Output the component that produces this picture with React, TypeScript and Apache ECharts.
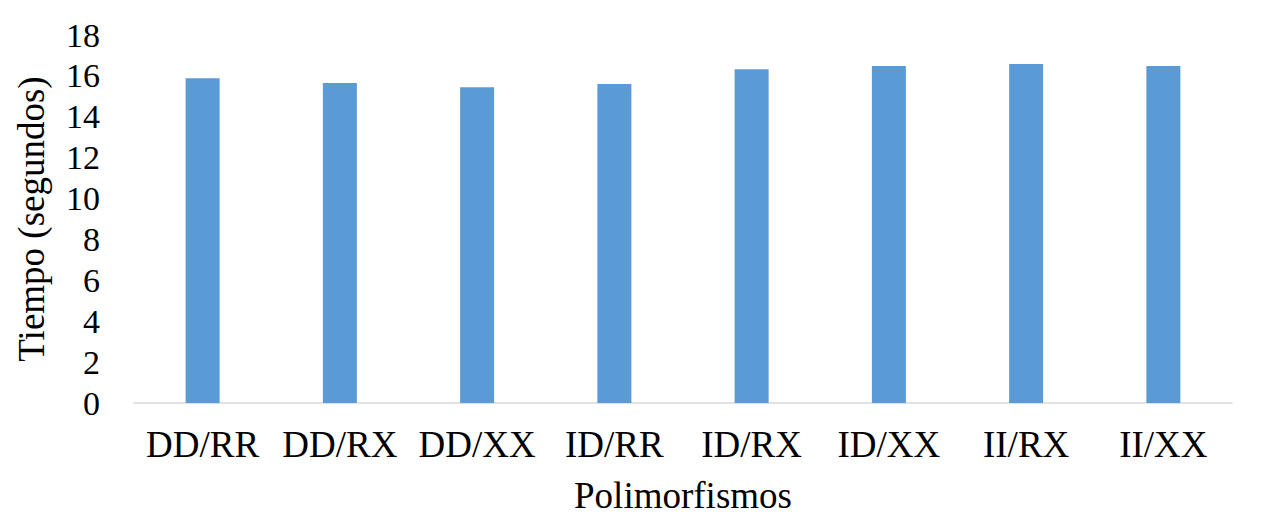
import React, { useEffect, useRef } from "react";
import * as echarts from "echarts";

const categories = ["DD/RR", "DD/RX", "DD/XX", "ID/RR", "ID/RX", "ID/XX", "II/RX", "II/XX"];
const tiempo = [15.89, 15.65, 15.45, 15.6, 16.33, 16.48, 16.58, 16.48];
const yTitle = "Tiempo (segundos)";
const xTitle = "Polimorfismos";

const FONT = "'Liberation Serif', 'Times New Roman', serif";

export default function App() {
  const ref = useRef<HTMLDivElement>(null);
  useEffect(() => {
    if (!ref.current) return;
    const chart = echarts.init(ref.current, null, { renderer: "svg" });
    chart.setOption({
      animation: false,
      backgroundColor: "#ffffff",
      grid: { left: 126, right: 26, top: 27, bottom: 112, containLabel: false, outerBoundsMode: "none" },
      xAxis: {
        type: "category",
        data: categories,
        axisLine: { show: true, lineStyle: { color: "#d9d9d9", width: 1.5 } },
        axisTick: { show: false },
        axisLabel: { color: "#000", fontFamily: FONT, fontSize: 37, margin: 23, interval: 0 },
        name: xTitle,
        nameLocation: "middle",
        nameGap: 74,
        nameTextStyle: { color: "#000", fontFamily: FONT, fontSize: 37 },
      },
      yAxis: {
        type: "value",
        min: 0,
        max: 18,
        interval: 2,
        axisLine: { show: false },
        axisTick: { show: false },
        splitLine: { show: false },
        axisLabel: { color: "#000", fontFamily: FONT, fontSize: 34, margin: 34 },
        name: yTitle,
        nameLocation: "middle",
        nameGap: 84,
        nameRotate: 90,
        nameTextStyle: { color: "#000", fontFamily: FONT, fontSize: 37 },
      },
      series: [
        {
          type: "bar",
          data: tiempo,
          barWidth: 34,
          itemStyle: { color: "#5b9bd5" },
        },
      ],
    });
    return () => chart.dispose();
  }, []);
  return <div ref={ref} style={{ width: 1250, height: 507 }} />;
}
